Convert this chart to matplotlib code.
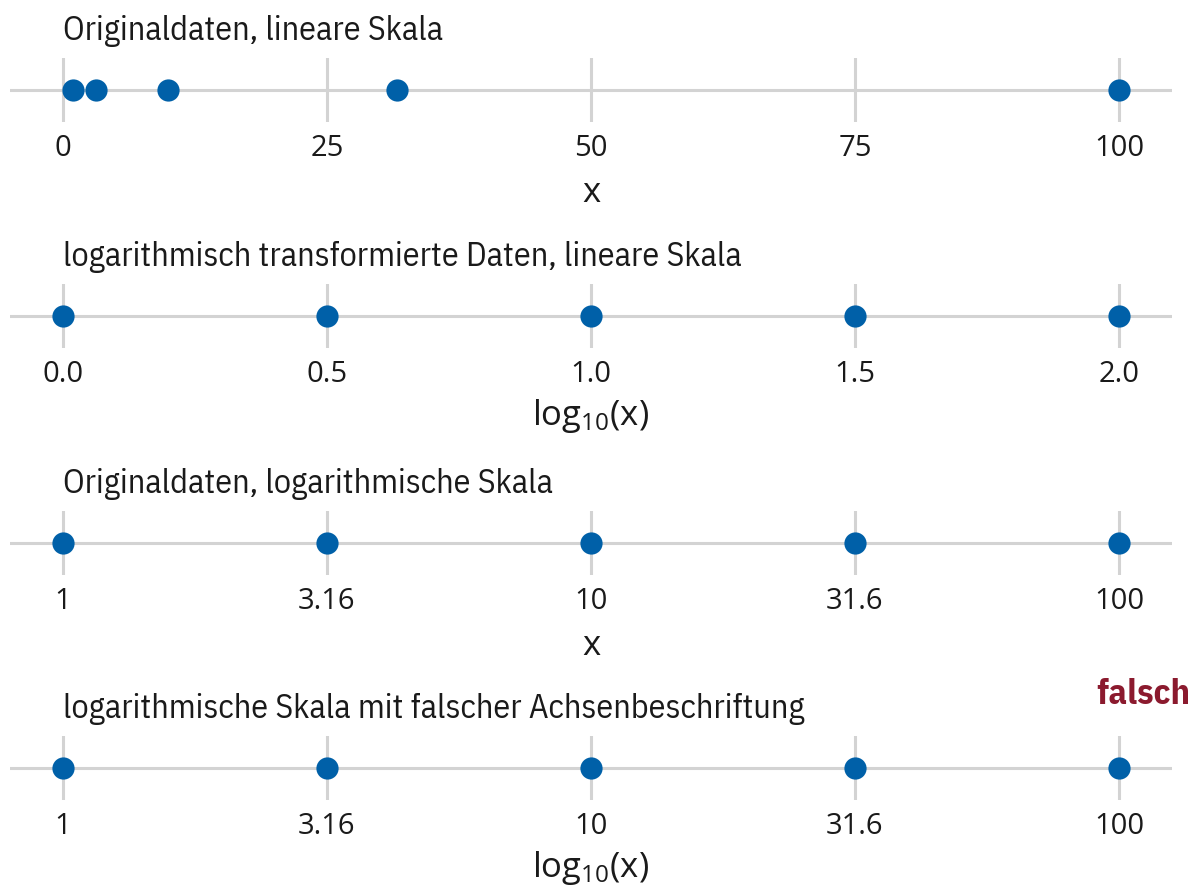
import numpy as np
import matplotlib
matplotlib.use("Agg")
import matplotlib.pyplot as plt
from matplotlib.ticker import FixedLocator, FixedFormatter, NullLocator

# ---- data ----
x_values = [1, 3.16, 10, 31.6, 100]
log_values = [0.0, 0.5, 1.0, 1.5, 2.0]
lin_ticks = [0, 25, 50, 75, 100]
lin_ticklabels = ["0", "25", "50", "75", "100"]
log_ticks = [0.0, 0.5, 1.0, 1.5, 2.0]
log_ticklabels = ["0.0", "0.5", "1.0", "1.5", "2.0"]
logscale_ticks = [1, 3.16, 10, 31.6, 100]
logscale_ticklabels = ["1", "3.16", "10", "31.6", "100"]
titles = [
    "Originaldaten, lineare Skala",
    "logarithmisch transformierte Daten, lineare Skala",
    "Originaldaten, logarithmische Skala",
    "logarithmische Skala mit falscher Achsenbeschriftung",
]
xlabels = ["x", "log$_{10}$(x)", "x", "log$_{10}$(x)"]

W, H = 1203, 895
fig = plt.figure(figsize=(W / 100, H / 100), dpi=100)

plt.rcParams['mathtext.fontset'] = 'custom'
plt.rcParams['mathtext.rm'] = 'Open Sans'
plt.rcParams['mathtext.it'] = 'Open Sans'

title_font = ['IBM Plex Sans Condensed', 'DejaVu Sans']
tick_font = ['Open Sans', 'DejaVu Sans']
dot_color = "#0060a8"
grid_color = "#d3d3d3"
text_color = "#1a1a1a"

row_centers = [91, 317, 544, 769]
ax_left, ax_right = 10, 1172
half_h = 32

def px_axes(cy):
    return fig.add_axes([ax_left / W, 1 - (cy + half_h) / H,
                         (ax_right - ax_left) / W, 2 * half_h / H])

for i, cy in enumerate(row_centers):
    ax = px_axes(cy)
    for s in ax.spines.values():
        s.set_visible(False)
    ax.set_ylim(-1, 1)
    ax.yaxis.set_major_locator(NullLocator())
    if i == 0:
        data = x_values
        ticks, labels = lin_ticks, lin_ticklabels
        ax.set_xlim(-5, 105)
    elif i == 1:
        data = log_values
        ticks, labels = log_ticks, log_ticklabels
        ax.set_xlim(-0.1, 2.1)
    else:
        data = x_values
        ticks, labels = logscale_ticks, logscale_ticklabels
        ax.set_xscale('log')
        ax.set_xlim(10 ** -0.1, 10 ** 2.1)
    ax.xaxis.set_major_locator(FixedLocator(ticks))
    ax.xaxis.set_major_formatter(FixedFormatter(labels))
    ax.xaxis.set_minor_locator(NullLocator())
    for t in ticks:
        ax.axvline(t, color=grid_color, lw=2.2, zorder=1)
    ax.axhline(0, color=grid_color, lw=2.2, zorder=1)
    ax.plot(data, [0] * len(data), 'o', color=dot_color, ms=16, mec='none', zorder=3)
    ax.tick_params(axis='x', length=0, pad=8, labelsize=21, labelcolor=text_color)
    for lab in ax.get_xticklabels():
        lab.set_fontfamily(tick_font)
    lp = 9 if xlabels[i] == "x" else 6
    ax.set_xlabel(xlabels[i], fontsize=25, color=text_color, family=tick_font, labelpad=lp)
    fig.text(63 / W, 1 - (cy - 60) / H, titles[i], fontsize=24.5, color=text_color,
             family=title_font, ha='left', va='center')

fig.text(1143 / W, 1 - 695 / H, "falsch", fontsize=26, color="#8b1a2e",
         family=title_font, fontweight='bold', ha='center', va='center')

fig.savefig("out.png", dpi=100, facecolor='white')
